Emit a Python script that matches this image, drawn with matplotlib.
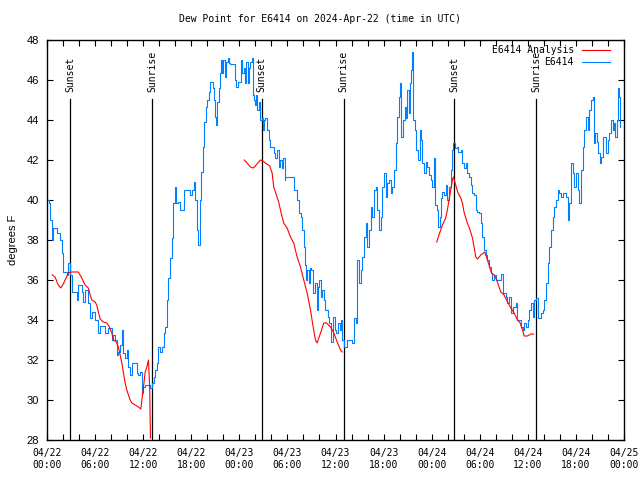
import numpy as np
import matplotlib
matplotlib.use("Agg")
import matplotlib.pyplot as plt
from matplotlib.ticker import MultipleLocator, FixedLocator

# Hours since 2024-04-22 00:00 UTC
obs_hours = [0.06, 0.19, 0.38, 0.59, 0.75, 1.21, 1.38, 1.63, 1.84, 1.96, 2.25, 2.46, 2.66, 2.81,
             3.09, 3.5, 3.71, 3.91, 4.34, 4.54, 4.75, 5.16, 5.38, 5.59, 6.0, 6.21, 6.41, 6.63,
             7.04, 7.25, 7.66, 8.09, 8.29, 8.5, 8.71, 8.91, 9.13, 9.34, 9.54, 9.75, 9.96, 10.16,
             10.38, 10.59, 11.0, 11.21, 11.41, 11.63, 11.84, 12.04, 12.25, 12.66, 12.88, 13.09,
             13.29, 13.5, 13.71, 13.91, 14.13, 14.34, 14.54, 14.75, 14.96, 15.16, 15.38, 15.59,
             15.71, 15.91, 16.13, 16.34, 16.54, 16.84, 17.04, 17.66, 17.88, 18.09, 18.29, 18.5,
             18.71, 18.79, 19.04, 19.21, 19.41, 19.63, 19.84, 19.96, 20.16, 20.38, 20.59, 20.71,
             20.79, 21.0, 21.13, 21.21, 21.41, 21.54, 21.71, 21.84, 21.96, 22.16, 22.38, 22.54,
             22.71, 22.88, 23.21, 23.41, 23.63, 23.84, 24.04, 24.25, 24.38, 24.56, 24.75, 24.88,
             25.04, 25.21, 25.38, 25.54, 25.66, 25.79, 26.0, 26.1, 26.21, 26.41, 26.63, 26.84,
             26.96, 27.13, 27.25, 27.46, 27.66, 27.88, 28.29, 28.5, 28.71, 28.91, 29.13, 29.34,
             29.46, 29.66, 29.75, 30.59, 30.79, 31.21, 31.41, 31.71, 31.84, 32.04, 32.25, 32.38,
             32.46, 32.66, 32.79, 33.0, 33.21, 33.38, 33.63, 33.79, 34.0, 34.21, 34.34, 34.54,
             34.75, 35.04, 35.25, 35.46, 35.66, 35.88, 36.09, 36.29, 36.5, 36.71, 36.84, 37.04,
             37.46, 37.88, 38.09, 38.29, 38.5, 38.71, 38.91, 39.13, 39.34, 39.54, 39.75, 39.96,
             40.16, 40.38, 40.59, 40.79, 41.0, 41.21, 41.41, 41.63, 41.84, 42.04, 42.25, 42.46,
             42.66, 42.88, 43.09, 43.29, 43.5, 43.71, 43.91, 44.04, 44.21, 44.41, 44.63, 44.79,
             44.96, 45.16, 45.29, 45.46, 45.59, 45.71, 45.88, 46.09, 46.29, 46.5, 46.63, 46.84,
             47.04, 47.25, 47.46, 47.66, 47.88, 48.09, 48.29, 48.41, 48.63, 48.79, 49.0, 49.21,
             49.34, 49.54, 49.75, 49.96, 50.16, 50.38, 50.59, 50.71, 50.91, 51.13, 51.34, 51.63,
             51.84, 52.04, 52.25, 52.46, 52.66, 52.88, 53.09, 53.29, 53.5, 53.71, 53.91, 54.13,
             54.34, 54.54, 54.75, 54.96, 55.16, 55.38, 55.59, 55.79, 56.0, 56.41, 56.63, 56.84,
             57.04, 57.25, 57.46, 57.66, 57.88, 58.09, 58.29, 58.5, 58.71, 58.91, 59.13, 59.34,
             59.54, 59.75, 59.96, 60.16, 60.38, 60.59, 60.79, 61.0, 61.21, 61.41, 61.63, 61.84,
             62.04, 62.25, 62.46, 62.66, 62.88, 63.09, 63.29, 63.5, 63.71, 63.91, 64.13, 64.34,
             64.54, 64.75, 64.96, 65.16, 65.38, 65.59, 65.79, 66.0, 66.21, 66.41, 66.63, 66.84,
             67.04, 67.25, 67.46, 67.66, 67.88, 68.09, 68.21, 68.38, 68.59, 68.79, 69.0, 69.13,
             69.34, 69.54, 69.75, 69.96, 70.16, 70.38, 70.59, 70.71, 70.88, 71.09, 71.21, 71.41,
             71.54]
obs_dewpoint = [40.0, 39.85, 39.0, 38.0, 38.6, 38.35, 38.35, 38.0, 37.35, 36.4, 36.4, 36.25, 36.85, 36.25,
                35.4, 35.4, 35.0, 35.75, 35.4, 34.9, 35.5, 34.85, 34.1, 34.4, 34.0, 34.0, 33.35, 33.7,
                33.7, 33.35, 33.6, 33.0, 33.25, 33.0, 32.25, 32.4, 32.75, 33.5, 32.35, 32.1, 32.5, 31.65,
                31.25, 31.85, 31.85, 31.35, 31.25, 31.4, 30.35, 30.65, 30.75, 30.75, 30.6, 30.85,
                31.15, 31.5, 31.85, 32.65, 32.4, 32.65, 33.35, 33.65, 35.0, 36.1, 37.1, 38.1,
                39.85, 40.65, 39.85, 39.9, 39.5, 39.5, 40.5, 40.5, 40.25, 40.5, 40.9, 40.0,
                38.5, 37.75, 40.0, 41.4, 42.65, 43.9, 44.65, 45.0, 45.4, 45.9, 45.9, 45.6,
                45.0, 44.15, 43.75, 44.9, 45.6, 46.35, 47.0, 46.35, 47.0, 46.15, 46.9, 47.1,
                46.85, 46.8, 46.8, 46.0, 45.65, 45.9, 45.9, 47.0, 46.35, 46.6, 45.85, 46.9,
                45.85, 46.6, 46.9, 47.1, 45.25, 45.0, 44.75, 45.25, 44.5, 44.9, 44.0, 44.1,
                43.5, 44.0, 44.1, 43.5, 43.0, 42.65, 42.35, 42.1, 42.5, 41.65, 42.0, 41.6,
                42.1, 41.0, 41.15, 41.15, 40.5, 40.0, 39.35, 39.15, 38.5, 37.65, 36.75, 36.0,
                36.5, 35.85, 36.6, 36.5, 35.35, 35.85, 34.5, 35.65, 36.0, 35.15, 35.5, 35.0,
                34.5, 34.15, 33.85, 32.9, 34.15, 33.5, 33.35, 33.85, 33.5, 34.0, 33.0, 32.65,
                33.0, 33.0, 32.85, 34.1, 33.85, 37.0, 35.85, 36.5, 37.15, 38.15, 38.85, 37.65,
                38.5, 39.65, 39.15, 40.5, 40.65, 39.5, 38.5, 39.15, 40.65, 41.35, 40.15, 40.85,
                41.0, 40.35, 40.65, 41.5, 42.85, 44.15, 45.15, 45.85, 43.15, 44.0, 44.65, 44.1,
                45.5, 44.35, 45.85, 46.5, 47.4, 44.0, 43.5, 42.5, 42.0, 43.5, 43.0, 41.85,
                41.35, 41.9, 41.65, 41.25, 41.0, 40.65, 42.1, 39.75, 39.5, 38.65, 39.15, 40.1,
                40.4, 40.25, 40.75, 40.0, 40.65, 41.5, 42.5, 42.85, 42.6, 42.65, 42.4, 42.5,
                41.85, 41.6, 41.85, 41.35, 41.15, 40.75, 40.35, 40.25, 39.5, 39.4, 39.35, 38.85,
                38.15, 37.5, 37.25, 37.0, 36.65, 36.35, 36.0, 36.25, 36.0, 36.0, 36.3, 35.35,
                35.35, 35.15, 34.85, 35.15, 34.35, 34.65, 34.65, 34.85, 34.0, 34.0, 33.65, 33.5,
                33.85, 33.65, 34.0, 34.5, 34.85, 34.15, 35.0, 35.1, 34.1, 34.1, 34.35, 34.5,
                35.0, 35.85, 36.85, 37.65, 38.5, 39.15, 39.65, 40.0, 40.5, 40.35, 40.15, 40.35,
                40.35, 40.15, 39.0, 39.85, 41.85, 41.35, 40.65, 41.35, 40.5, 39.85, 41.5, 42.65,
                43.5, 44.15, 43.5, 44.5, 45.0, 45.15, 42.85, 43.35, 42.9, 42.35, 41.85, 42.15,
                43.15, 43.15, 42.35, 43.0, 43.35, 44.0, 43.5, 43.85, 43.15, 44.0, 45.6, 45.15,
                43.65]

ana_hours_1 = [0.66, 1.0, 1.41, 1.71, 1.96, 2.38, 2.66, 3.09, 3.91, 4.34, 4.75, 5.16, 5.38, 5.59,
               6.0, 6.21, 6.41, 6.63, 7.04, 7.46, 7.79, 8.09, 8.29, 8.63, 8.91, 9.13, 9.34, 9.54,
               9.75, 9.96, 10.16, 10.38, 10.59, 11.0, 11.41, 11.71, 11.84, 12.04, 12.25, 12.46,
               12.66, 12.81, 12.91]
ana_dewpoint_1 = [36.25, 36.15, 35.75, 35.6, 35.75, 36.1, 36.35, 36.4, 36.4, 36.1, 35.75, 35.6, 35.25, 35.0,
                  34.9, 34.75, 34.4, 34.05, 33.9, 33.85, 33.65, 33.35, 33.0, 32.9, 32.65, 32.25, 31.85, 31.35,
                  30.85, 30.5, 30.25, 30.0, 29.85, 29.75, 29.65, 29.55, 30.0, 30.65, 31.4, 31.65,
                  32.0, 30.65, 28.1]
ana_hours_2 = [24.63, 24.96, 25.38, 25.71, 26.0, 26.29, 26.63, 26.96, 27.25, 27.79, 28.09, 28.29, 28.71,
               28.91, 29.13, 29.34, 29.54, 29.96, 30.38, 30.79, 31.21, 31.63, 32.04, 32.46, 32.88,
               33.21, 33.5, 33.71, 34.13, 34.54, 34.88, 35.38, 35.79, 36.21, 36.63, 36.84]
ana_dewpoint_2 = [42.0, 41.85, 41.65, 41.6, 41.7, 41.85, 42.0, 41.95, 41.85, 41.7, 41.35, 40.65, 40.15,
                  39.9, 39.5, 39.15, 38.85, 38.6, 38.15, 37.85, 37.15, 36.65, 36.0, 35.35, 34.5,
                  33.65, 33.0, 32.85, 33.35, 33.85, 33.85, 33.65, 33.35, 32.9, 32.5, 32.4]
ana_hours_3 = [48.63, 48.91, 49.13, 49.34, 49.75, 49.96, 50.16, 50.38, 50.59, 50.71, 51.0, 51.29, 51.63,
               51.84, 52.04, 52.25, 52.46, 52.79, 53.09, 53.29, 53.5, 53.71, 54.13, 54.63, 54.96,
               55.16, 55.46, 55.79, 56.13, 56.41, 56.63, 57.04, 57.46, 57.88, 58.29, 58.71, 59.04,
               59.34, 59.54, 59.96, 60.38, 60.71]
ana_dewpoint_3 = [37.9, 38.25, 38.5, 38.75, 39.1, 39.5, 40.0, 40.5, 41.0, 41.15, 40.75, 40.35, 40.1,
                  39.85, 39.4, 39.1, 38.85, 38.5, 38.1, 37.65, 37.15, 37.05, 37.25, 37.4, 37.0,
                  36.75, 36.35, 36.25, 36.0, 35.65, 35.4, 35.25, 34.9, 34.6, 34.35, 34.0, 33.85,
                  33.5, 33.2, 33.2, 33.3, 33.3]

sun_events = ["Sunset", "Sunrise", "Sunset", "Sunrise", "Sunset", "Sunrise"]
sun_hours = [2.92, 13.15, 26.8, 37.04, 50.79, 61.04]

tick_hours = [0, 6, 12, 18, 24, 30, 36, 42, 48, 54, 60, 66, 72]
tick_labels = ["04/22\n00:00", "04/22\n06:00", "04/22\n12:00", "04/22\n18:00",
               "04/23\n00:00", "04/23\n06:00", "04/23\n12:00", "04/23\n18:00",
               "04/24\n00:00", "04/24\n06:00", "04/24\n12:00", "04/24\n18:00",
               "04/25\n00:00"]

title = "Dew Point for E6414 on 2024-Apr-22 (time in UTC)"
ylabel = "degrees F"
series_names = ["E6414 Analysis", "E6414"]

MONO = "DejaVu Sans Mono"
SANS = "Liberation Sans"
RED = "#ff0000"
BLUE = "#0080ff"

fig = plt.figure(figsize=(6.4, 4.8), dpi=100)
ax = fig.add_axes([47 / 640, 40 / 480, 577 / 640, 400 / 480])

ax.set_xlim(0, 72)
ax.set_ylim(28, 48)

# sunrise/sunset lines
line_top = 45.05
for name, h in zip(sun_events, sun_hours):
    ax.plot([h, h], [28, line_top], color="black", lw=0.9, zorder=1)
    ax.text(h, 45.4, name, rotation=90, ha="center", va="bottom",
            family=MONO, fontsize=7, color="black")

# analysis (red) with gaps
ana_h = ana_hours_1 + [np.nan] + ana_hours_2 + [np.nan] + ana_hours_3
ana_v = ana_dewpoint_1 + [np.nan] + ana_dewpoint_2 + [np.nan] + ana_dewpoint_3
ax.plot(ana_h, ana_v, color=RED, lw=0.8, zorder=3)

# observations (blue)
ax.plot(obs_hours, obs_dewpoint, color=BLUE, lw=0.8, drawstyle="steps-post", zorder=2)

# ticks
ax.xaxis.set_major_locator(FixedLocator(tick_hours))
ax.set_xticklabels(tick_labels, family=MONO, fontsize=7)
ax.xaxis.set_minor_locator(MultipleLocator(2))
ax.yaxis.set_major_locator(MultipleLocator(2))
for lab in ax.get_yticklabels():
    lab.set_family(SANS)
    lab.set_fontsize(8)
ax.tick_params(axis="both", which="both", direction="in", top=True, right=True,
               length=4, width=0.8)
ax.tick_params(axis="x", which="major", pad=6)
ax.tick_params(axis="y", which="major", pad=6, labelsize=8)
for sp in ax.spines.values():
    sp.set_linewidth(1.0)

ax.set_ylabel(ylabel, family=SANS, fontsize=8, labelpad=6)
fig.text(0.5, 1 - 19 / 480, title, ha="center", va="center", family=MONO, fontsize=7)

# legend (right-justified text, line to the right)
leg_rows = [(series_names[0], RED, 0.975), (series_names[1], BLUE, 0.945)]
for name, col, yy in leg_rows:
    ax.text(0.913, yy, name, transform=ax.transAxes, ha="right", va="center",
            family=MONO, fontsize=7)
    ax.plot([0.927, 0.976], [yy, yy], transform=ax.transAxes, color=col, lw=0.8)

fig.savefig("out.png", dpi=100)
